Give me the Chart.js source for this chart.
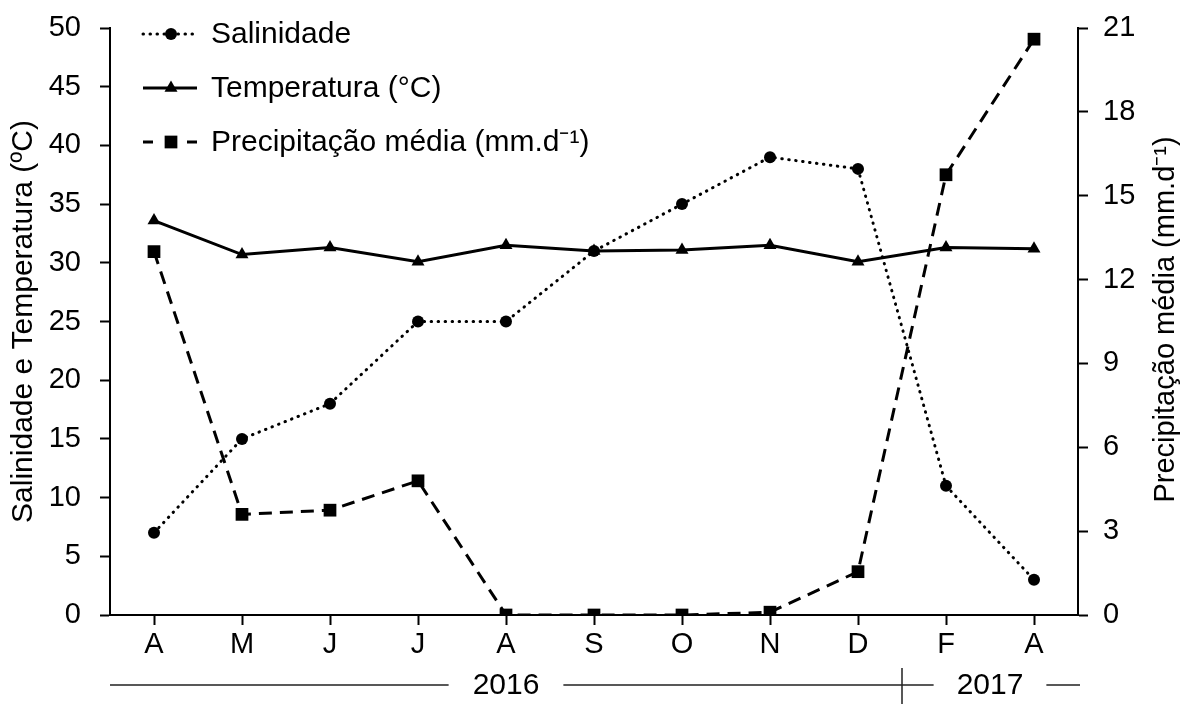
<!DOCTYPE html>
<html><head><meta charset="utf-8">
<script src="https://cdn.jsdelivr.net/npm/chart.js@4/dist/chart.umd.min.js"></script>
<style>html,body{margin:0;padding:0;background:#fff}</style>
</head><body>
<canvas id="c" width="1192" height="704"></canvas>
<script>
const months = ['A','M','J','J','A','S','O','N','D','F','A'];
const salinidade = [7, 15, 18, 25, 25, 31, 35, 39, 38, 11, 3];
const temperatura = [33.6, 30.7, 31.3, 30.1, 31.5, 31.0, 31.1, 31.5, 30.1, 31.3, 31.2];
const precipitacao = [13.0, 3.6, 3.75, 4.8, 0, 0, 0, 0.1, 1.55, 15.75, 20.6];
const years = ['2016', '2017'];
const seriesNames = ['Salinidade', 'Temperatura (°C)', 'Precipitação média (mm.d⁻¹)'];
const leftTitle = 'Salinidade e Temperatura (ºC)';
const rightTitle = 'Precipitação média (mm.d⁻¹)';

const FONT = "'Liberation Sans', Arial, sans-serif";
const INK = '#000';

function drawMarker(ctx, style, x, y, r) {
  ctx.save();
  ctx.fillStyle = INK;
  ctx.beginPath();
  if (style === 'circle') {
    ctx.arc(x, y, r, 0, Math.PI * 2);
  } else if (style === 'triangle') {
    const w = r * Math.sqrt(3) / 2;
    ctx.moveTo(x, y - r);
    ctx.lineTo(x + w, y + r / 2);
    ctx.lineTo(x - w, y + r / 2);
    ctx.closePath();
  } else {
    const s = Math.SQRT1_2 * r;
    ctx.rect(x - s, y - s, 2 * s, 2 * s);
  }
  ctx.fill();
  ctx.restore();
}

const insideLegend = {
  id: 'insideLegend',
  afterDraw(chart) {
    const ctx = chart.ctx;
    const rowsY = [34, 88, 142];
    const x0 = 143, x1 = 197, mx = 171, tx = 211;
    ctx.save();
    chart.data.datasets.forEach((ds, i) => {
      const y = rowsY[i];
      ctx.strokeStyle = INK;
      ctx.lineWidth = ds.borderWidth;
      ctx.lineCap = ds.borderCapStyle || 'butt';
      ctx.setLineDash(ds.borderDash || []);
      ctx.beginPath();
      if (i === 2) {
        ctx.setLineDash([]);
        ctx.lineCap = 'butt';
        ctx.moveTo(x0, y); ctx.lineTo(x0 + 10, y);
        ctx.moveTo(x1 - 10, y); ctx.lineTo(x1, y);
      } else {
        ctx.moveTo(x0, y); ctx.lineTo(x1, y);
      }
      ctx.stroke();
      ctx.setLineDash([]);
      drawMarker(ctx, ds.pointStyle, mx, y, ds.pointRadius);
      ctx.fillStyle = INK;
      ctx.font = '30px ' + FONT;
      ctx.textAlign = 'left';
      ctx.textBaseline = 'middle';
      ctx.fillText(ds.label, tx, y + 1);
    });
    ctx.restore();
  }
};

const rightTitlePlugin = {
  id: 'rightTitle',
  afterDraw(chart) {
    const ctx = chart.ctx;
    const area = chart.chartArea;
    ctx.save();
    ctx.translate(1166, (area.top + area.bottom) / 2 - 2);
    ctx.rotate(-Math.PI / 2);
    ctx.font = '29px ' + FONT;
    ctx.fillStyle = INK;
    ctx.textAlign = 'center';
    ctx.textBaseline = 'middle';
    ctx.fillText(rightTitle, 0, 0);
    ctx.restore();
  }
};

const yearRow = {
  id: 'yearRow',
  afterDraw(chart) {
    const ctx = chart.ctx;
    const xs = chart.scales.x;
    const area = chart.chartArea;
    const y = 685;
    const c1 = xs.getPixelForValue(4);
    const c2 = (xs.getPixelForValue(9) + xs.getPixelForValue(10)) / 2;
    const div = (xs.getPixelForValue(8) + xs.getPixelForValue(9)) / 2;
    ctx.save();
    ctx.font = '30px ' + FONT;
    ctx.fillStyle = INK;
    ctx.textAlign = 'center';
    ctx.textBaseline = 'middle';
    ctx.fillText(years[0], c1, y + 1);
    ctx.fillText(years[1], c2, y + 1);
    const w1 = ctx.measureText(years[0]).width / 2 + 24;
    const w2 = ctx.measureText(years[1]).width / 2 + 23;
    ctx.strokeStyle = '#222';
    ctx.lineWidth = 1.5;
    ctx.beginPath();
    ctx.moveTo(area.left, y); ctx.lineTo(c1 - w1, y);
    ctx.moveTo(c1 + w1, y); ctx.lineTo(c2 - w2, y);
    ctx.moveTo(c2 + w2, y); ctx.lineTo(area.right + 2, y);
    ctx.moveTo(div, 668); ctx.lineTo(div, 704);
    ctx.stroke();
    ctx.restore();
  }
};

const tickFont = { family: FONT, size: 29 };

new Chart(document.getElementById('c'), {
  type: 'line',
  data: {
    labels: months,
    datasets: [
      {
        label: seriesNames[0], data: salinidade, yAxisID: 'y',
        borderColor: INK, backgroundColor: INK, borderWidth: 3,
        borderDash: [0.5, 6.5], borderCapStyle: 'round', pointStyle: 'circle', pointRadius: 6,
        pointBackgroundColor: INK, pointBorderWidth: 0, tension: 0, order: 3
      },
      {
        label: seriesNames[1], data: temperatura, yAxisID: 'y',
        borderColor: INK, backgroundColor: INK, borderWidth: 3,
        pointStyle: 'triangle', pointRadius: 7.5,
        pointBackgroundColor: INK, pointBorderWidth: 0, tension: 0, order: 2
      },
      {
        label: seriesNames[2], data: precipitacao, yAxisID: 'y1',
        borderColor: INK, backgroundColor: INK, borderWidth: 3,
        borderDash: [13, 8], pointStyle: 'rect', pointRadius: 9,
        pointBackgroundColor: INK, pointBorderWidth: 0, tension: 0, order: 1
      }
    ]
  },
  options: {
    responsive: false,
    animation: false,
    devicePixelRatio: 1,
    layout: { padding: { top: 28, bottom: 0, left: 0, right: 0 } },
    plugins: { legend: { display: false }, tooltip: { enabled: false } },
    scales: {
      x: {
        offset: true,
        grid: { drawOnChartArea: false, tickLength: 10, tickWidth: 2, tickColor: INK, offset: false },
        border: { color: INK, width: 2 },
        ticks: { color: INK, font: tickFont, padding: 3, maxRotation: 0, autoSkip: false },
        afterFit(s) { s.height = 89; }
      },
      y: {
        position: 'left', min: 0, max: 50,
        grid: { drawOnChartArea: false, tickLength: 10, tickWidth: 2, tickColor: INK },
        border: { color: INK, width: 2 },
        ticks: { stepSize: 5, color: INK, font: tickFont, padding: 19 },
        title: { display: true, text: leftTitle, color: INK, font: { family: FONT, size: 30 }, padding: { top: 6, bottom: 0 } },
        afterFit(s) { s.width = 110; s.paddingTop = 0; s.paddingBottom = 0; }
      },
      y1: {
        position: 'right', min: 0, max: 21,
        grid: { drawOnChartArea: false, tickLength: 10, tickWidth: 2, tickColor: INK },
        border: { color: INK, width: 2 },
        ticks: { stepSize: 3, color: INK, font: tickFont, padding: 15 },
        title: { display: false },
        afterFit(s) { s.width = 114; s.paddingTop = 0; s.paddingBottom = 0; }
      }
    }
  },
  plugins: [insideLegend, rightTitlePlugin, yearRow]
});
</script>
</body></html>
